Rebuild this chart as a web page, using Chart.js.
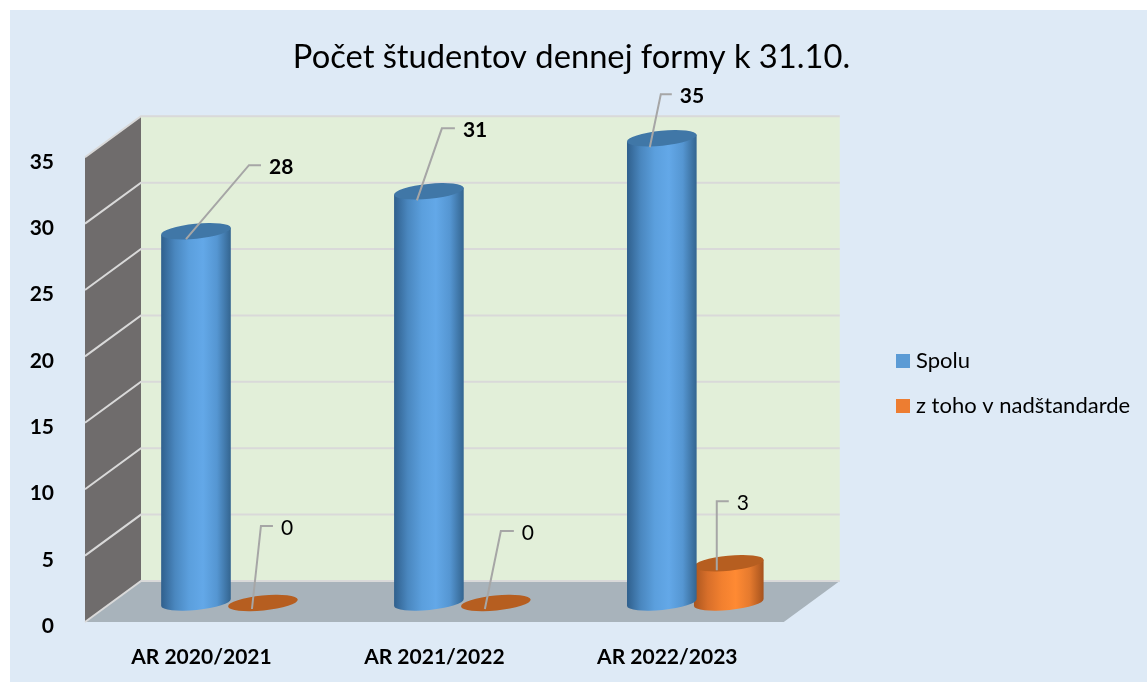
<!DOCTYPE html>
<html>
<head>
<meta charset="utf-8">
<style>
  html, body { margin: 0; padding: 0; background: #fff; }
  #wrap { position: absolute; left: 0; top: 0; width: 1147px; height: 682px; }
</style>
<script src="https://cdn.jsdelivr.net/npm/chart.js@4"></script>
</head>
<body>
<div id="wrap"><canvas id="chart" width="1147" height="682"></canvas></div>
<script>
const categories = ['AR 2020/2021', 'AR 2021/2022', 'AR 2022/2023'];
const spolu = [28, 31, 35];
const nadstandard = [0, 0, 3];
const seriesNames = ['Spolu', 'z toho v nadštandarde'];
const yTicks = [0, 5, 10, 15, 20, 25, 30, 35];

// 3D look: how far the bars and the back wall sit behind the front plane
const barDepth = { x: 28, y: -19 };
const wallDepth = { x: 56, y: -41 };

// leader line bend and end, relative to the top of the cylinder
const leaders = [
  [{ from: [-10, 8], bend: [53, -66], end: [65, -66] },
   { from: [-12, 9], bend: [13, -63], end: [26, -63] },
   { from: [-12, 9], bend: [-1, -44], end: [10, -44] }],
  [{ from: [-11, 6], bend: [-2, -77], end: [10, -77] },
   { from: [-11, 6], bend: [5, -72], end: [18, -72] },
   { from: [-12, 7], bend: [-12, -62], end: [0, -62] }]
];

const cylinderStyles = [
  { stops: ['#2f5f8c', '#4a87bf', '#5b9fdd', '#63a8e8', '#5596d2', '#33648f'], top: '#4077a7' },
  { stops: ['#a9551f', '#d86f2a', '#f2802f', '#ff8a33', '#e57a2e', '#a5521d'], top: '#b65e20' }
];

function drawCylinder(ctx, bar, style) {
  const rx = bar.width / 2;
  const ry = 7.5;
  const tilt = -0.1;
  const x = bar.x + barDepth.x;
  const top = bar.y + barDepth.y;
  const base = bar.base + barDepth.y - 0.5;
  const dx = rx * Math.cos(tilt);
  const dy = rx * Math.sin(tilt);

  if (base - top > 1) {
    const g = ctx.createLinearGradient(x - rx, 0, x + rx, 0);
    style.stops.forEach((c, i) => g.addColorStop(i / (style.stops.length - 1), c));
    ctx.fillStyle = g;
    ctx.beginPath();
    ctx.moveTo(x - dx, top - dy);
    ctx.lineTo(x - dx, base - dy);
    ctx.ellipse(x, base, rx, ry, tilt, Math.PI, 0, true);
    ctx.lineTo(x + dx, top + dy);
    ctx.closePath();
    ctx.fill();
  }
  ctx.fillStyle = style.top;
  ctx.beginPath();
  ctx.ellipse(x, top, rx, ry, tilt, 0, Math.PI * 2);
  ctx.fill();
}

const sceneWalls = {
  id: 'sceneWalls',
  beforeDraw(chart) {
    const { ctx } = chart;
    // panel behind everything
    ctx.save();
    ctx.fillStyle = '#deeaf6';
    ctx.fillRect(10, 10, 1137, 672);
    ctx.restore();
  },
  beforeDatasetsDraw(chart) {
    const { ctx, chartArea: a, scales } = chart;
    const y = scales.y;
    const y0 = y.getPixelForValue(0);
    const yMax = y.getPixelForValue(35);
    const d = wallDepth;
    ctx.save();
    // back wall
    ctx.fillStyle = '#e2efd9';
    ctx.fillRect(a.left + d.x, yMax + d.y, a.right - a.left, y0 - yMax);
    // side wall
    ctx.fillStyle = '#6f6c6c';
    ctx.beginPath();
    ctx.moveTo(a.left, y0);
    ctx.lineTo(a.left + d.x, y0 + d.y);
    ctx.lineTo(a.left + d.x, yMax + d.y);
    ctx.lineTo(a.left, yMax);
    ctx.closePath();
    ctx.fill();
    // floor
    ctx.fillStyle = '#a8b3bb';
    ctx.beginPath();
    ctx.moveTo(a.left, y0);
    ctx.lineTo(a.right, y0);
    ctx.lineTo(a.right + d.x, y0 + d.y);
    ctx.lineTo(a.left + d.x, y0 + d.y);
    ctx.closePath();
    ctx.fill();
    // gridlines, along the side wall then the back wall
    ctx.lineWidth = 2;
    ctx.strokeStyle = '#d9d9d9';
    yTicks.forEach(v => {
      const py = y.getPixelForValue(v);
      ctx.beginPath();
      ctx.moveTo(a.left, py);
      ctx.lineTo(a.left + d.x, py + d.y);
      ctx.lineTo(a.right + d.x, py + d.y);
      ctx.stroke();
    });
    ctx.restore();
  },
  beforeDatasetDraw(chart, args) {
    const { ctx } = chart;
    ctx.save();
    chart.getDatasetMeta(args.index).data.forEach(bar => {
      drawCylinder(ctx, bar, cylinderStyles[args.index]);
    });
    ctx.restore();
    return false;
  },
  afterDatasetsDraw(chart) {
    const { ctx } = chart;
    ctx.save();
    chart.data.datasets.forEach((ds, di) => {
      chart.getDatasetMeta(di).data.forEach((bar, i) => {
        const l = leaders[di][i];
        const x = bar.x + barDepth.x;
        const y = bar.y + barDepth.y;
        ctx.strokeStyle = '#a6a6a6';
        ctx.lineWidth = 2;
        ctx.beginPath();
        ctx.moveTo(x + l.from[0], y + l.from[1]);
        ctx.lineTo(x + l.bend[0], y + l.bend[1]);
        ctx.lineTo(x + l.end[0], y + l.end[1]);
        ctx.stroke();
        ctx.fillStyle = '#000';
        ctx.font = (di === 0 ? 'bold ' : '') + '21px Lato';
        ctx.textAlign = 'left';
        ctx.textBaseline = 'middle';
        ctx.fillText(String(ds.data[i]), x + l.end[0] + 8, y + l.end[1] + 2);
      });
    });
    ctx.restore();
  },
  afterLayout(chart) {
    // legend sits apart from the plot, so move it after the layout
    const lg = chart.legend;
    const padding = lg.options.labels.padding;
    const shiftX = 901 - padding - lg.left;
    const shiftY = 383.5 - (lg.top + lg.bottom) / 2;
    lg.left += shiftX;
    lg.right += shiftX;
    lg.top += shiftY;
    lg.bottom += shiftY;
    lg.legendHitBoxes.forEach(h => { h.left += shiftX; h.top += shiftY; });
    // title is centred on the whole panel, not on what the padding leaves
    const t = chart.titleBlock;
    const titleShift = 571.5 - (t.left + t.right) / 2;
    t.left += titleShift;
    t.right += titleShift;
  }
};

new Chart(document.getElementById('chart'), {
  type: 'bar',
  data: {
    labels: categories,
    datasets: [
      { label: seriesNames[0], data: spolu, backgroundColor: '#5b9bd5' },
      { label: seriesNames[1], data: nadstandard, backgroundColor: '#ed7d31' }
    ]
  },
  options: {
    responsive: false,
    animation: false,
    categoryPercentage: 0.575,
    barPercentage: 1.045,
    layout: { padding: { left: 0, right: 102, top: 0, bottom: 0 } },
    plugins: {
      title: {
        display: true,
        text: 'Počet študentov dennej formy k 31.10.',
        color: '#000',
        font: { family: 'Lato', size: 32.7, weight: 'normal' },
        padding: { top: 38, bottom: 80 }
      },
      legend: {
        position: 'right',
        labels: {
          color: '#000',
          font: { family: 'Lato', size: 22 },
          boxWidth: 4,
          boxHeight: 4,
          padding: 23,
          // small box with a thick border of the same colour keeps the text close to it
          generateLabels: chart => Chart.defaults.plugins.legend.labels.generateLabels(chart)
            .map(l => ({ ...l, lineWidth: 10, strokeStyle: l.fillStyle }))
        }
      },
      tooltip: { enabled: false }
    },
    scales: {
      x: {
        grid: { display: false },
        border: { display: false },
        afterFit(s) { s.height = 60; },
        ticks: { color: '#000', font: { family: 'Lato', size: 21, weight: 'bold' }, padding: 15 }
      },
      y: {
        min: 0,
        max: 35,
        grid: { display: false },
        border: { display: false },
        afterFit(s) { s.width = 85; },
        ticks: { stepSize: 5, color: '#000', font: { family: 'Lato', size: 21, weight: 'bold' }, padding: 23, labelOffset: 4.5 }
      }
    }
  },
  plugins: [sceneWalls]
});
</script>
</body>
</html>
